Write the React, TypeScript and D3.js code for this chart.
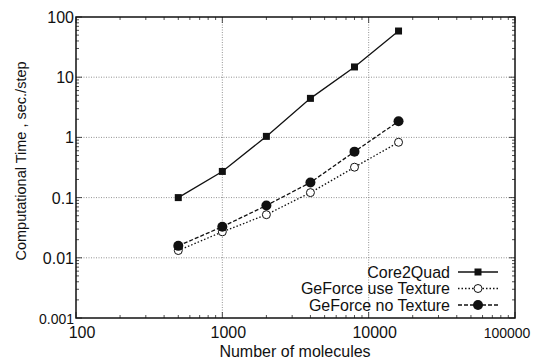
import React, { useEffect, useRef } from "react";
import * as d3 from "d3";

const molecules = [500, 1000, 2000, 4000, 8000, 16000];
const core2Quad = [0.1, 0.272, 1.04, 4.45, 14.8, 58.5];
const geforceTexture = [0.0132, 0.027, 0.052, 0.121, 0.32, 0.83];
const geforceNoTexture = [0.0158, 0.0328, 0.074, 0.178, 0.58, 1.85];
const xTicks = [100, 1000, 10000, 100000];
const yTicks = [0.001, 0.01, 0.1, 1, 10, 100];
const yTickLabels = ["0.001", "0.01", "0.1", "1", "10", "100"];

const series = [
  { name: "Core2Quad", values: core2Quad, dash: null, marker: "square" },
  { name: "GeForce use Texture", values: geforceTexture, dash: "1.5,2", marker: "open" },
  { name: "GeForce no Texture", values: geforceNoTexture, dash: "4,2", marker: "filled" },
];

const W = 536;
const H = 363;

export default function App() {
  const ref = useRef<SVGSVGElement>(null);

  useEffect(() => {
    const svg = d3.select(ref.current);
    svg.selectAll("*").remove();
    const margin = { top: 17, right: 21, bottom: 45, left: 76 };
    const font = "Liberation Sans, Arial, sans-serif";

    const x = d3.scaleLog().domain([100, 100000]).range([margin.left, W - margin.right]);
    const y = d3.scaleLog().domain([0.001, 100]).range([H - margin.bottom, margin.top]);
    const [x0, x1] = x.range();
    const [y0, y1] = y.range();

    // grid
    const grid = svg.append("g").attr("stroke", "#777").attr("stroke-width", 0.8).attr("stroke-dasharray", "1,1.5");
    xTicks.slice(1, -1).forEach(t => {
      grid.append("line").attr("x1", x(t)).attr("x2", x(t)).attr("y1", y0).attr("y2", y1);
    });
    yTicks.slice(1, -1).forEach(t => {
      grid.append("line").attr("x1", x0).attr("x2", x1).attr("y1", y(t)).attr("y2", y(t));
    });

    // minor + major ticks inside
    const ticks = svg.append("g").attr("stroke", "#222").attr("stroke-width", 0.8);
    const xMinor: number[] = [];
    for (let d = 100; d < 100000; d *= 10) for (let k = 2; k <= 9; k++) xMinor.push(d * k);
    xMinor.forEach(t => {
      ticks.append("line").attr("x1", x(t)).attr("x2", x(t)).attr("y1", y0).attr("y2", y0 - 3);
      ticks.append("line").attr("x1", x(t)).attr("x2", x(t)).attr("y1", y1).attr("y2", y1 + 3);
    });
    xTicks.forEach(t => {
      ticks.append("line").attr("x1", x(t)).attr("x2", x(t)).attr("y1", y0).attr("y2", y0 - 6);
      ticks.append("line").attr("x1", x(t)).attr("x2", x(t)).attr("y1", y1).attr("y2", y1 + 6);
    });
    const yMinor: number[] = [];
    for (let d = 0.001; d < 99; d *= 10) for (let k = 2; k <= 9; k++) yMinor.push(d * k);
    yMinor.forEach(t => {
      ticks.append("line").attr("x1", x0).attr("x2", x0 + 3).attr("y1", y(t)).attr("y2", y(t));
      ticks.append("line").attr("x1", x1).attr("x2", x1 - 3).attr("y1", y(t)).attr("y2", y(t));
    });
    yTicks.forEach(t => {
      ticks.append("line").attr("x1", x0).attr("x2", x0 + 6).attr("y1", y(t)).attr("y2", y(t));
      ticks.append("line").attr("x1", x1).attr("x2", x1 - 6).attr("y1", y(t)).attr("y2", y(t));
    });

    // frame
    svg.append("rect").attr("x", x0).attr("y", y1).attr("width", x1 - x0).attr("height", y0 - y1)
      .attr("fill", "none").attr("stroke", "#111").attr("stroke-width", 1.5);

    // tick labels
    const lastX = xTicks.length - 1;
    svg.append("g").selectAll("text").data(xTicks).join("text")
      .attr("x", (d, i) => (i === lastX ? x(d) - 8 : x(d) + 6)).attr("y", y0 + 20).attr("text-anchor", "middle")
      .attr("font-family", font).attr("font-size", (d, i) => (i === lastX ? 14 : 16)).attr("fill", "#111")
      .text(d => String(d));
    svg.append("g").selectAll("text").data(yTicks).join("text")
      .attr("x", x0 - 2).attr("y", d => y(d) + 6).attr("text-anchor", "end")
      .attr("font-family", font).attr("font-size", (d, i) => (i === 0 ? 14 : 16)).attr("fill", "#111")
      .text((d, i) => yTickLabels[i]);

    // titles
    svg.append("text").attr("x", 295).attr("y", 357).attr("text-anchor", "middle")
      .attr("font-family", font).attr("font-size", 16).attr("fill", "#111").text("Number of molecules");
    svg.append("text").attr("transform", `translate(26,161) rotate(-90)`)
      .attr("text-anchor", "middle").attr("font-family", font).attr("font-size", 14.5).attr("fill", "#111")
      .text("Computational Time , sec./step");

    const line = d3.line<number>().x((d, i) => x(molecules[i])).y(d => y(d));

    const drawMarker = (g: any, kind: string, cx: number, cy: number) => {
      if (kind === "square") {
        g.append("rect").attr("x", cx - 3.5).attr("y", cy - 3.5).attr("width", 7).attr("height", 7).attr("fill", "#111");
      } else if (kind === "open") {
        g.append("circle").attr("cx", cx).attr("cy", cy).attr("r", 4).attr("fill", "#fff").attr("stroke", "#111").attr("stroke-width", 1);
      } else {
        g.append("circle").attr("cx", cx).attr("cy", cy).attr("r", 5).attr("fill", "#111");
      }
    };

    series.forEach(s => {
      const g = svg.append("g");
      g.append("path").datum(s.values).attr("d", line).attr("fill", "none").attr("stroke", "#111")
        .attr("stroke-width", 1.3).attr("stroke-dasharray", s.dash);
      s.values.forEach((v, i) => drawMarker(g, s.marker, x(molecules[i]), y(v)));
    });

    // legend
    const lg = svg.append("g");
    series.forEach((s, i) => {
      const ly = 272 + i * 16.5;
      lg.append("text").attr("x", 450).attr("y", ly + 5.5).attr("text-anchor", "end")
        .attr("font-family", font).attr("font-size", 16).attr("fill", "#111").text(s.name);
      lg.append("line").attr("x1", 458).attr("x2", 498).attr("y1", ly).attr("y2", ly)
        .attr("stroke", "#111").attr("stroke-width", 1.3).attr("stroke-dasharray", s.dash);
      drawMarker(lg, s.marker, 478, ly);
    });
  }, []);

  return <svg ref={ref} width={W} height={H} style={{ position: "absolute", left: 0, top: 0, background: "#fff" }} />;
}
